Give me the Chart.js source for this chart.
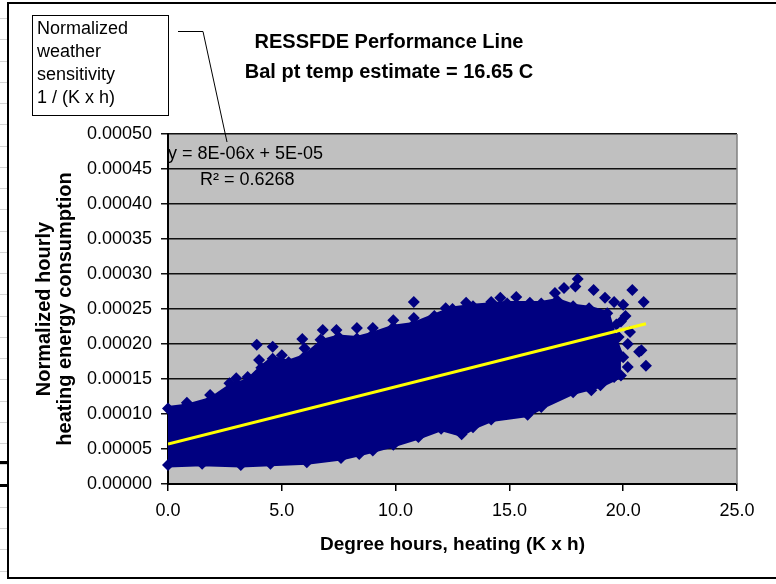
<!DOCTYPE html>
<html>
<head>
<meta charset="utf-8">
<title>RESSFDE Performance Line</title>
<script src="https://cdn.jsdelivr.net/npm/chart.js@4"></script>
<style>
  html, body { margin: 0; padding: 0; background: #fff; }
  #chart { display: block; }
</style>
</head>
<body>
<canvas id="chart" width="776" height="584"></canvas>
<script>
// Borde superior de la nube densa de puntos (x = grados hora, y = consumo normalizado)
const cloudTopX = [0, 0.8, 1.9, 2.8, 3.5, 4.1, 4.6, 5.3, 6.0, 6.8, 7.5, 8.3, 9.0, 9.9, 10.8, 11.7, 12.5, 13.4, 14.9, 16.4, 17.1, 17.8, 18.5, 19.3, 19.6, 19.9];
const cloudTopY = [0.000108, 0.000111, 0.000121, 0.000141, 0.000147, 0.000166, 0.000179, 0.000174, 0.000182, 0.000204, 0.000210, 0.000208, 0.000214, 0.000224, 0.000228, 0.000240, 0.000250, 0.000254, 0.000258, 0.000258, 0.000262, 0.000254, 0.000251, 0.000244, 0.000210, 0.000183];

// Borde inferior de la nube
const cloudBottomX = [0, 1.5, 3.2, 4.5, 6.1, 7.6, 8.4, 9.0, 9.9, 11.0, 12.0, 12.9, 13.4, 14.2, 15.8, 16.4, 17.8, 19.0, 19.9];
const cloudBottomY = [0.000027, 0.000029, 0.000027, 0.000029, 0.000031, 0.000037, 0.000043, 0.000048, 0.000056, 0.000067, 0.000079, 0.000071, 0.000081, 0.000092, 0.000099, 0.000110, 0.000131, 0.000141, 0.000155];

// Puntos sueltos fuera de la nube
const outlierX = [0.83, 1.85, 2.7, 3.0, 3.5, 3.9, 4.0, 4.6, 5.0, 5.4, 5.9, 6.0, 6.7, 6.8, 7.4, 8.3, 9.0, 9.9, 10.8, 10.8, 12.2, 13.1, 14.2, 14.6, 15.3, 15.9, 17.0, 17.4, 17.9, 18.0, 18.7, 19.2, 19.6, 20.0, 20.4, 20.9, 19.8, 20.3, 19.3, 20.0, 20.7, 20.2, 21.0, 19.6, 18.6, 19.0, 20.1, 19.9, 19.7, 20.2, 20.8];
const outlierY = [0.000116, 0.000127, 0.000144, 0.000151, 0.000153, 0.000199, 0.000177, 0.000196, 0.000184, 0.000169, 0.000207, 0.000194, 0.000206, 0.000220, 0.000220, 0.000223, 0.000223, 0.000234, 0.000260, 0.000237, 0.000251, 0.000259, 0.000260, 0.000266, 0.000267, 0.000259, 0.000273, 0.000280, 0.000282, 0.000293, 0.000277, 0.000266, 0.000260, 0.000256, 0.000277, 0.000260, 0.000210, 0.000217, 0.000181, 0.000181, 0.000189, 0.000167, 0.000169, 0.000153, 0.000134, 0.000159, 0.000240, 0.000232, 0.000228, 0.000200, 0.000191];

// Línea de tendencia lineal (y = 8E-06x + 5E-05)
const trendX = [0, 21];
const trendY = [0.000057, 0.000229];

// Marcas de los ejes
const xTickValues = [0, 5, 10, 15, 20, 25];
const yTickValues = [0, 0.00005, 0.0001, 0.00015, 0.0002, 0.00025, 0.0003, 0.00035, 0.0004, 0.00045, 0.0005];

const NAVY = '#000080';
const FONT = '"Liberation Sans", Arial, sans-serif';
Chart.defaults.font.family = FONT;
Chart.defaults.color = '#000';

const pts = (xs, ys) => xs.map((x, i) => ({ x: x, y: ys[i] }));

// Fondo: celdas de la hoja, marco del gráfico y área gris
const frame = {
  id: 'frame',
  beforeDraw(chart) {
    const { ctx, chartArea: a } = chart;
    ctx.save();
    ctx.fillStyle = '#fff';
    ctx.fillRect(0, 0, chart.width, chart.height);
    ctx.strokeStyle = '#d4d4d4';
    ctx.lineWidth = 1;
    for (let y = 18; y < 584; y += 21.25) {
      ctx.beginPath();
      ctx.moveTo(0, Math.round(y) + 0.5);
      ctx.lineTo(7, Math.round(y) + 0.5);
      ctx.stroke();
    }
    ctx.fillStyle = '#000';
    ctx.fillRect(0, 461, 7, 3);
    ctx.fillRect(0, 484, 7, 3);
    ctx.strokeStyle = '#000';
    ctx.lineWidth = 2;
    ctx.strokeRect(8, 3, 800, 575);
    ctx.fillStyle = '#c0c0c0';
    ctx.fillRect(a.left, a.top, a.right - a.left, a.bottom - a.top);
    ctx.restore();
  },
  beforeDatasetsDraw(chart) {
    const { ctx, chartArea: a } = chart;
    ctx.save();
    ctx.strokeStyle = '#808080';
    ctx.lineWidth = 1.5;
    ctx.beginPath();
    ctx.moveTo(a.right, a.top);
    ctx.lineTo(a.right, a.bottom);
    ctx.stroke();
    ctx.restore();
  }
};

// Cuadro de texto, línea guía y ecuación de la tendencia
const notes = {
  id: 'notes',
  afterDraw(chart) {
    const ctx = chart.ctx;
    ctx.save();
    ctx.strokeStyle = '#000';
    ctx.lineWidth = 1;
    ctx.strokeRect(32.5, 15.5, 136, 100);
    ctx.beginPath();
    ctx.moveTo(178, 31.5);
    ctx.lineTo(203, 31.5);
    ctx.lineTo(227, 142);
    ctx.stroke();
    ctx.fillStyle = '#000';
    ctx.font = '18px ' + FONT;
    ctx.textBaseline = 'alphabetic';
    ['Normalized', 'weather', 'sensitivity', '1 / (K x h)'].forEach((t, i) => {
      ctx.fillText(t, 37, 34 + i * 23);
    });
    ctx.fillText('y = 8E-06x + 5E-05', 168, 159);
    ctx.fillText('R² = 0.6268', 200, 185);
    ctx.restore();
  }
};

const markers = {
  pointStyle: 'rectRot',
  pointRadius: 6,
  pointBackgroundColor: NAVY,
  pointBorderWidth: 0,
  clip: 8
};

new Chart(document.getElementById('chart'), {
  type: 'scatter',
  data: {
    datasets: [
      {
        label: 'Tendencia',
        data: pts(trendX, trendY),
        showLine: true,
        borderColor: '#ffff00',
        borderWidth: 3,
        pointRadius: 0,
        fill: false
      },
      Object.assign({
        label: 'Puntos sueltos',
        data: pts(outlierX, outlierY)
      }, markers),
      Object.assign({
        label: 'Nube (borde superior)',
        data: pts(cloudTopX, cloudTopY),
        showLine: true,
        borderColor: NAVY,
        borderWidth: 5,
        backgroundColor: NAVY,
        fill: '+1'
      }, markers),
      Object.assign({
        label: 'Nube (borde inferior)',
        data: pts(cloudBottomX, cloudBottomY),
        showLine: true,
        borderColor: NAVY,
        borderWidth: 5,
        fill: false
      }, markers)
    ]
  },
  options: {
    responsive: false,
    animation: false,
    events: [],
    layout: { padding: { left: 41, right: 39, top: 0, bottom: 0 } },
    plugins: {
      legend: { display: false },
      tooltip: { enabled: false },
      title: {
        display: true,
        text: ['RESSFDE Performance Line', 'Bal pt temp estimate = 16.65 C'],
        font: { size: 20, weight: 'bold', lineHeight: 1.5 },
        color: '#000',
        padding: { top: 27.5, bottom: 46.5 }
      }
    },
    scales: {
      x: {
        type: 'linear',
        position: 'bottom',
        min: 0,
        max: 25,
        afterBuildTicks: s => { s.ticks = xTickValues.map(v => ({ value: v })); },
        afterFit: s => { s.height = 100; },
        ticks: {
          callback: v => v.toFixed(1),
          font: { size: 18 },
          color: '#000',
          padding: 9,
          maxRotation: 0,
          autoSkip: false
        },
        grid: { drawOnChartArea: false, drawTicks: true, tickLength: 7, color: '#000', lineWidth: 1.5 },
        border: { color: '#000', width: 2 },
        title: {
          display: true,
          text: 'Degree hours, heating (K x h)',
          font: { size: 19, weight: 'bold' },
          color: '#000',
          padding: { top: 0, bottom: 27.6 }
        }
      },
      y: {
        type: 'linear',
        min: 0,
        max: 0.0005,
        afterBuildTicks: s => { s.ticks = yTickValues.map(v => ({ value: v })); },
        afterFit: s => { s.width = 127; },
        ticks: {
          callback: v => v.toFixed(5),
          font: { size: 18 },
          color: '#000',
          padding: 9
        },
        grid: { color: '#111', lineWidth: 1.5, tickLength: 7 },
        border: { color: '#000', width: 2 },
        title: {
          display: true,
          text: ['Normalized hourly', 'heating energy consumption'],
          font: { size: 20, weight: 'bold', lineHeight: 1.08 },
          color: '#000',
          padding: { top: -7.5, bottom: 0 }
        }
      }
    }
  },
  plugins: [frame, notes]
});
</script>
</body>
</html>
